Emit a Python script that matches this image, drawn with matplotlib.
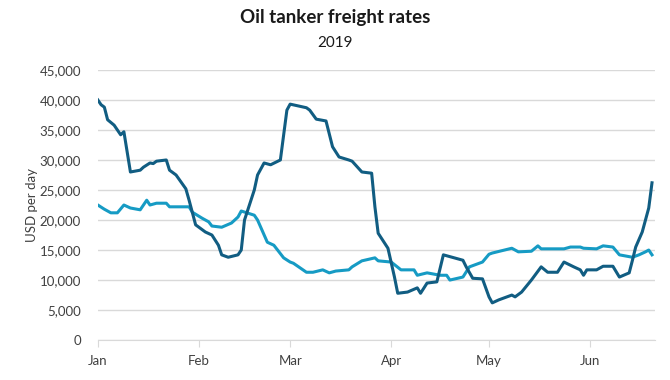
import matplotlib
matplotlib.use("Agg")
import matplotlib.pyplot as plt
from matplotlib.ticker import FuncFormatter
import pandas as pd

plt.rcParams["font.family"] = ["Lato", "DejaVu Sans"]

# dark series
dark_dates = [
    "2019-01-01", "2019-01-02", "2019-01-03", "2019-01-04", "2019-01-06", "2019-01-07",
    "2019-01-08", "2019-01-09", "2019-01-11", "2019-01-14", "2019-01-15", "2019-01-17",
    "2019-01-18", "2019-01-19", "2019-01-22", "2019-01-23", "2019-01-25", "2019-01-28",
    "2019-01-29", "2019-01-31", "2019-02-03", "2019-02-05", "2019-02-07", "2019-02-08",
    "2019-02-10", "2019-02-13", "2019-02-14", "2019-02-15", "2019-02-18", "2019-02-19",
    "2019-02-21", "2019-02-23", "2019-02-26", "2019-02-28", "2019-03-01", "2019-03-06",
    "2019-03-07", "2019-03-09", "2019-03-12", "2019-03-14", "2019-03-16", "2019-03-19",
    "2019-03-20", "2019-03-23", "2019-03-26", "2019-03-27", "2019-03-28", "2019-03-31",
    "2019-04-02", "2019-04-03", "2019-04-06", "2019-04-09", "2019-04-10", "2019-04-12",
    "2019-04-15", "2019-04-17", "2019-04-23", "2019-04-24", "2019-04-26", "2019-04-29",
    "2019-05-01", "2019-05-02", "2019-05-04", "2019-05-08", "2019-05-09", "2019-05-11",
    "2019-05-14", "2019-05-17", "2019-05-19", "2019-05-22", "2019-05-24", "2019-05-27",
    "2019-05-29", "2019-05-30", "2019-05-31", "2019-06-03", "2019-06-05", "2019-06-08",
    "2019-06-10", "2019-06-13", "2019-06-14", "2019-06-15", "2019-06-17", "2019-06-19",
    "2019-06-20",
]
dark_vals = [
    40000, 39200, 38800, 36700, 35800, 35000,
    34200, 34700, 28000, 28300, 28800, 29500,
    29400, 29800, 30000, 28300, 27500, 25200,
    23300, 19200, 18000, 17500, 15800, 14200,
    13800, 14200, 15000, 20000, 25000, 27500,
    29500, 29200, 30000, 38300, 39300, 38700,
    38300, 36800, 36500, 32200, 30500, 30000,
    29800, 28000, 27800, 22200, 17800, 15300,
    10500, 7800, 8000, 8700, 7800, 9500,
    9700, 14200, 13300, 12200, 10300, 10200,
    7200, 6200, 6700, 7500, 7200, 8000,
    10000, 12200, 11300, 11300, 13000, 12200,
    11700, 10800, 11700, 11700, 12300, 12300,
    10500, 11200, 13300, 15500, 18000, 22000,
    26200,
]

# light series
light_dates = [
    "2019-01-01", "2019-01-03", "2019-01-05", "2019-01-07", "2019-01-09", "2019-01-11",
    "2019-01-14", "2019-01-16", "2019-01-17", "2019-01-19", "2019-01-22", "2019-01-23",
    "2019-01-29", "2019-01-30", "2019-02-02", "2019-02-04", "2019-02-05", "2019-02-08",
    "2019-02-11", "2019-02-13", "2019-02-14", "2019-02-18", "2019-02-19", "2019-02-22",
    "2019-02-24", "2019-02-27", "2019-03-01", "2019-03-02", "2019-03-06", "2019-03-08",
    "2019-03-11", "2019-03-13", "2019-03-15", "2019-03-19", "2019-03-20", "2019-03-23",
    "2019-03-27", "2019-03-28", "2019-04-01", "2019-04-04", "2019-04-08", "2019-04-09",
    "2019-04-12", "2019-04-16", "2019-04-18", "2019-04-19", "2019-04-23", "2019-04-25",
    "2019-04-29", "2019-05-01", "2019-05-02", "2019-05-08", "2019-05-10", "2019-05-14",
    "2019-05-16", "2019-05-17", "2019-05-24", "2019-05-26", "2019-05-29", "2019-05-30",
    "2019-06-03", "2019-06-05", "2019-06-08", "2019-06-10", "2019-06-14", "2019-06-16",
    "2019-06-18", "2019-06-19", "2019-06-20",
]
light_vals = [
    22500, 21800, 21200, 21200, 22500, 22000,
    21700, 23300, 22500, 22800, 22800, 22200,
    22200, 21300, 20300, 19700, 19000, 18800,
    19500, 20500, 21500, 20800, 20000, 16300,
    15800, 13700, 13000, 12800, 11300, 11300,
    11700, 11200, 11500, 11700, 12200, 13200,
    13700, 13200, 13000, 11700, 11700, 10800,
    11200, 10800, 10800, 10000, 10500, 12200,
    13000, 14300, 14500, 15300, 14700, 14800,
    15700, 15200, 15200, 15500, 15500, 15300,
    15200, 15700, 15500, 14200, 13800, 14200,
    14700, 15000, 14200,
]

y_ticks = list(range(0, 45001, 5000))
month_labels = ["Jan", "Feb", "Mar", "Apr", "May", "Jun"]

dark = pd.Series(dark_vals, index=pd.to_datetime(dark_dates))
light = pd.Series(light_vals, index=pd.to_datetime(light_dates))

fig = plt.figure(figsize=(6.7, 3.8), dpi=100)
ax = fig.add_axes([0.146, 0.105, 0.832, 0.711])

ax.plot(light.index, light.values, color="#169bc4", lw=2.2, solid_joinstyle="round")
ax.plot(dark.index, dark.values, color="#115d82", lw=2.2, solid_joinstyle="round")

ax.set_ylim(0, 45000)
ax.set_yticks(y_ticks)
ax.yaxis.set_major_formatter(FuncFormatter(lambda v, p: f"{int(v):,}"))
ax.set_xlim(pd.Timestamp("2019-01-01"), pd.Timestamp("2019-06-21"))
month_starts = pd.date_range("2019-01-01", periods=6, freq="MS")
ax.set_xticks(month_starts)
ax.set_xticklabels(month_labels)

ax.grid(axis="y", color="#d9d9d9", lw=1)
ax.set_axisbelow(True)
for s in ["top", "right", "left"]:
    ax.spines[s].set_visible(False)
ax.spines["bottom"].set_color("#d9d9d9")
ax.tick_params(axis="y", length=0, labelsize=9.5, colors="#404040", pad=12)
ax.tick_params(axis="x", length=5, color="#d9d9d9", labelsize=9.5, labelcolor="#404040", pad=6)

ax.set_ylabel("USD per day", fontsize=9.5, color="#404040", labelpad=1)

fig.text(0.5, 0.955, "Oil tanker freight rates", ha="center", va="center",
         fontsize=13.5, fontweight="bold", color="#1a1a1a")
fig.text(0.5, 0.888, "2019", ha="center", va="center", fontsize=11, color="#1a1a1a")

fig.savefig("out.png", dpi=100)
